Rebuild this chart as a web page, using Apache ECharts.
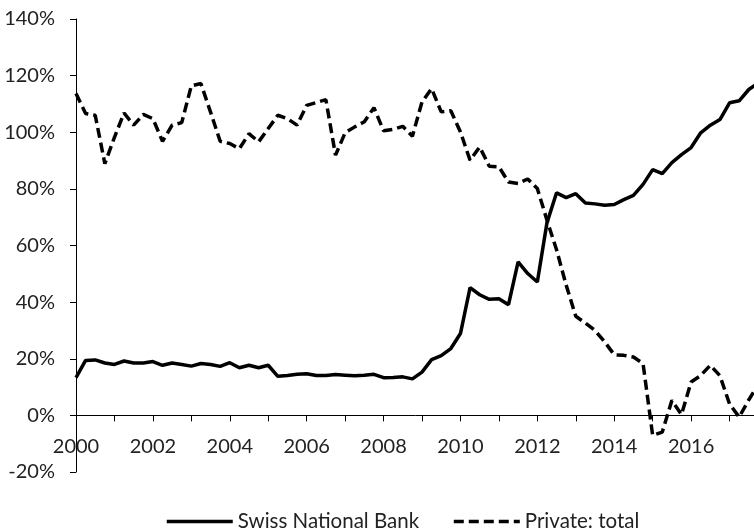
<!DOCTYPE html>
<html>
<head>
<meta charset="utf-8">
<script src="https://cdn.jsdelivr.net/npm/echarts@6/dist/echarts.min.js"></script>
<style>
  html, body { margin: 0; padding: 0; background: #fff; }
  #chart { width: 754px; height: 530px; }
</style>
</head>
<body>
<div id="chart"></div>
<script>
// quarterly observations, first quarter = 2000 Q1
var startYear = 2000;
var swissNationalBank = [
  13.3, 19.4, 19.6, 18.5, 18.0, 19.2, 18.5, 18.5, 19.0, 17.7, 18.5, 18.0,
  17.4, 18.3, 18.0, 17.3, 18.6, 16.8, 17.7, 16.8, 17.7, 13.8, 14.1, 14.5,
  14.7, 14.1, 14.1, 14.4, 14.2, 14.0, 14.2, 14.5, 13.3, 13.4, 13.6, 12.9,
  15.3, 19.7, 21.1, 23.6, 28.9, 45.1, 42.6, 41.0, 41.2, 39.1, 54.2, 50.1,
  47.1, 68.0, 78.6, 76.9, 78.3, 75.0, 74.7, 74.2, 74.5, 76.2, 77.7, 81.6,
  86.8, 85.4, 89.3, 92.1, 94.6, 99.8, 102.5, 104.5, 110.4, 111.1, 115.1, 117.5
];
var privateTotal = [
  113.7, 106.6, 106.0, 88.9, 98.2, 106.8, 102.5, 106.3, 104.8, 96.8, 102.5, 103.4,
  116.4, 117.2, 107.1, 96.8, 96.0, 94.2, 99.5, 96.6, 101.3, 106.0, 104.8, 102.5,
  109.5, 110.5, 111.5, 91.9, 99.8, 101.9, 103.7, 108.7, 100.5, 101.0, 102.1, 98.6,
  110.7, 115.4, 107.2, 107.6, 100.1, 90.1, 94.8, 88.0, 87.8, 82.4, 81.9, 83.5,
  80.1, 69.0, 58.5, 46.0, 35.0, 32.6, 30.0, 26.0, 21.4, 21.2, 20.6, 18.3,
  -7.1, -5.9, 5.3, 0.3, 11.8, 14.1, 17.7, 14.0, 4.0, -0.6, 5.5, 11.0
];
var seriesNames = ['Swiss National Bank', 'Private: total'];
var lastLabelYear = 2016;

function toPoints(values) {
  return values.map(function (v, i) { return [startYear + i / 4, v]; });
}

var font = 'Lato';
var chart = echarts.init(document.getElementById('chart'));
chart.setOption({
  animation: false,
  backgroundColor: '#fff',
  grid: { left: 76, right: -14, top: 19, bottom: 58, outerBoundsMode: 'none', containLabel: false },
  legend: {
    left: 160,
    top: 506,
    itemWidth: 66,
    itemHeight: 14,
    itemGap: 33,
    itemStyle: { opacity: 0 },
    lineStyle: { width: 3.5 },
    textStyle: { fontFamily: font, fontSize: 20.5, color: '#222' },
    data: seriesNames
  },
  xAxis: {
    type: 'value',
    min: 2000,
    max: 2018,
    interval: 1,
    offset: -56.6,
    axisLine: { onZero: false, lineStyle: { color: '#000', width: 1 } },
    axisTick: { show: true, length: 6, lineStyle: { color: '#000' } },
    axisLabel: {
      margin: 21,
      fontFamily: font,
      fontSize: 20,
      color: '#222',
      formatter: function (v) { return (v % 2 === 0 && v <= lastLabelYear) ? String(v) : ''; }
    },
    splitLine: { show: false }
  },
  yAxis: {
    type: 'value',
    min: -20,
    max: 140,
    interval: 20,
    axisLine: { show: true, onZero: false, lineStyle: { color: '#000', width: 1 } },
    axisTick: { show: true, length: 6, lineStyle: { color: '#000' } },
    axisLabel: {
      margin: 21,
      fontFamily: font,
      fontSize: 20,
      color: '#222',
      formatter: '{value}%'
    },
    splitLine: { show: false }
  },
  series: [
    {
      name: seriesNames[0],
      type: 'line',
      data: toPoints(swissNationalBank),
      symbol: 'none',
      lineStyle: { color: '#000', width: 3.5 },
      itemStyle: { color: '#000' }
    },
    {
      name: seriesNames[1],
      type: 'line',
      data: toPoints(privateTotal),
      symbol: 'none',
      lineStyle: { color: '#000', width: 3.5, type: [10, 5] },
      itemStyle: { color: '#000' }
    }
  ]
});
</script>
</body>
</html>
